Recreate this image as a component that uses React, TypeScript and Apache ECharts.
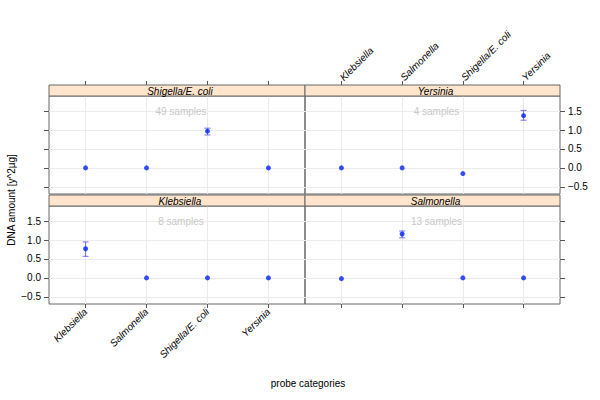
import React, { useEffect, useRef } from "react";
import * as echarts from "echarts";

// probe categories on the x axis
const categories = ["Klebsiella", "Salmonella", "Shigella/E. coli", "Yersinia"];
// panels in order: top-left, top-right, bottom-left, bottom-right
const panelNames = ["Shigella/E. coli", "Yersinia", "Klebsiella", "Salmonella"];
const sampleCounts = [49, 4, 8, 13];
// mean DNA amount per probe category, per panel
const shigellaMean = [0, 0, 0.97, 0];
const yersiniaMean = [0, 0, -0.15, 1.38];
const klebsiellaMean = [0.77, 0, 0, 0];
const salmonellaMean = [-0.02, 1.16, 0, 0];
// error bar limits
const shigellaLow = [0, 0, 0.87, 0];
const shigellaHigh = [0, 0, 1.05, 0];
const yersiniaLow = [0, 0, -0.15, 1.26];
const yersiniaHigh = [0, 0, -0.15, 1.52];
const klebsiellaLow = [0.57, 0, 0, 0];
const klebsiellaHigh = [0.95, 0, 0, 0];
const salmonellaLow = [-0.02, 1.06, 0, 0];
const salmonellaHigh = [-0.02, 1.24, 0, 0];
// y tick labels
const yTicks = [-0.5, 0, 0.5, 1, 1.5];

const means = [shigellaMean, yersiniaMean, klebsiellaMean, salmonellaMean];
const lows = [shigellaLow, yersiniaLow, klebsiellaLow, salmonellaLow];
const highs = [shigellaHigh, yersiniaHigh, klebsiellaHigh, salmonellaHigh];

const FONT = "'Liberation Sans', Arial, Helvetica, sans-serif";
const STRIP_H = 11;
const grids = [
  { left: 49, top: 96, width: 256, height: 98 },
  { left: 305, top: 96, width: 255, height: 98 },
  { left: 49, top: 206, width: 256, height: 98 },
  { left: 305, top: 206, width: 255, height: 98 },
];

export default function App() {
  const ref = useRef<HTMLDivElement>(null);
  useEffect(() => {
    if (!ref.current) return;
    const chart = echarts.init(ref.current, undefined, { renderer: "svg" });
    const xValues = categories.map((_, i) => i + 1);

    const xAxes = grids.map((_, gi) => {
      const isTop = gi < 2;
      const showLabel = gi === 1 || gi === 2;
      return {
        type: "value",
        gridIndex: gi,
        min: 0.4,
        max: 4.6,
        position: isTop ? "top" : "bottom",
        offset: isTop ? STRIP_H : 0,
        axisLine: { show: false, onZero: false },
        axisTick: {
          show: true,
          length: 4,
          inside: false,
          customValues: xValues,
          lineStyle: { color: "#555", width: 1 },
        },
        axisLabel: {
          show: showLabel,
          customValues: xValues,
          rotate: isTop ? -45 : 45,
          margin: 6,
          fontFamily: FONT,
          fontSize: 10,
          fontStyle: "italic",
          color: "#000",
          formatter: (v: number) => categories[Math.round(v) - 1] ?? "",
        },
        splitLine: { show: true, lineStyle: { color: "#ebebeb", width: 1 } },
      };
    });

    const yAxes = grids.map((_, gi) => {
      const isLeft = gi % 2 === 0;
      const showLabel = gi === 1 || gi === 2;
      return {
        type: "value",
        gridIndex: gi,
        min: -0.69,
        max: 1.9,
        position: isLeft ? "left" : "right",
        axisLine: { show: false, onZero: false },
        axisTick: {
          show: true,
          length: 5,
          customValues: yTicks,
          lineStyle: { color: "#555", width: 1 },
        },
        axisLabel: {
          show: showLabel,
          customValues: yTicks,
          margin: 8,
          fontFamily: FONT,
          fontSize: 10,
          color: "#000",
          formatter: (v: number) => (v < 0 ? "\u2212" + Math.abs(v).toFixed(1) : v.toFixed(1)),
        },
        splitLine: { show: true, lineStyle: { color: "#ebebeb", width: 1 } },
      };
    });

    const series: any[] = [];
    grids.forEach((_, gi) => {
      const errData = xValues
        .map((x, i) => [x, lows[gi][i], highs[gi][i]])
        .filter((d) => d[2] !== d[1]);
      series.push({
        type: "custom",
        xAxisIndex: gi,
        yAxisIndex: gi,
        z: 2,
        encode: { x: 0, y: [1, 2] },
        data: errData,
        renderItem: (params: any, api: any) => {
          const x = api.value(0);
          const p1 = api.coord([x, api.value(1)]);
          const p2 = api.coord([x, api.value(2)]);
          const cap = 3;
          const style = { stroke: "#6f6fff", lineWidth: 1 };
          return {
            type: "group",
            children: [
              { type: "line", shape: { x1: p1[0], y1: p1[1], x2: p2[0], y2: p2[1] }, style },
              { type: "line", shape: { x1: p1[0] - cap, y1: p1[1], x2: p1[0] + cap, y2: p1[1] }, style },
              { type: "line", shape: { x1: p2[0] - cap, y1: p2[1], x2: p2[0] + cap, y2: p2[1] }, style },
            ],
          };
        },
      });
      series.push({
        type: "scatter",
        xAxisIndex: gi,
        yAxisIndex: gi,
        z: 3,
        symbol: "circle",
        symbolSize: 5,
        itemStyle: { color: "#0022ff" },
        data: xValues.map((x, i) => [x, means[gi][i]]),
      });
    });

    const graphics: any[] = [];
    grids.forEach((g, gi) => {
      const sy = g.top - STRIP_H;
      graphics.push({
        type: "rect",
        z: 10,
        shape: { x: g.left, y: sy, width: g.width, height: STRIP_H },
        style: { fill: "#ffe5cc", stroke: "#666", lineWidth: 1 },
      });
      graphics.push({
        type: "text",
        z: 11,
        x: g.left + g.width / 2 + 3,
        y: sy + STRIP_H / 2 + 0.5,
        style: {
          text: panelNames[gi],
          fontFamily: FONT,
          fontSize: 10,
          fontStyle: "italic",
          fill: "#000",
          align: "center",
          verticalAlign: "middle",
        },
      });
      graphics.push({
        type: "text",
        z: 11,
        x: g.left + g.width / 2 + 4,
        y: g.top + 15.5,
        style: {
          text: sampleCounts[gi] + " samples",
          fontFamily: FONT,
          fontSize: 10,
          fill: "#c8c8c8",
          align: "center",
          verticalAlign: "middle",
        },
      });
    });
    graphics.push({
      type: "text",
      x: 11,
      y: 200,
      rotation: Math.PI / 2,
      style: {
        text: "DNA amount [y^2\u00b5g]",
        fontFamily: FONT,
        fontSize: 10,
        fill: "#000",
        align: "center",
        verticalAlign: "middle",
      },
    });
    graphics.push({
      type: "text",
      x: 308,
      y: 383,
      style: {
        text: "probe categories",
        fontFamily: FONT,
        fontSize: 10,
        fill: "#000",
        align: "center",
        verticalAlign: "middle",
      },
    });

    chart.setOption({
      animation: false,
      backgroundColor: "#fff",
      grid: grids.map((g) => ({
        ...g,
        show: true,
        borderColor: "#666",
        borderWidth: 1,
        backgroundColor: "transparent",
        containLabel: false,
      })),
      xAxis: xAxes,
      yAxis: yAxes,
      series,
      graphic: graphics,
    });
    return () => chart.dispose();
  }, []);
  return <div ref={ref} style={{ width: 600, height: 400, position: "absolute", left: 0, top: 0 }} />;
}
